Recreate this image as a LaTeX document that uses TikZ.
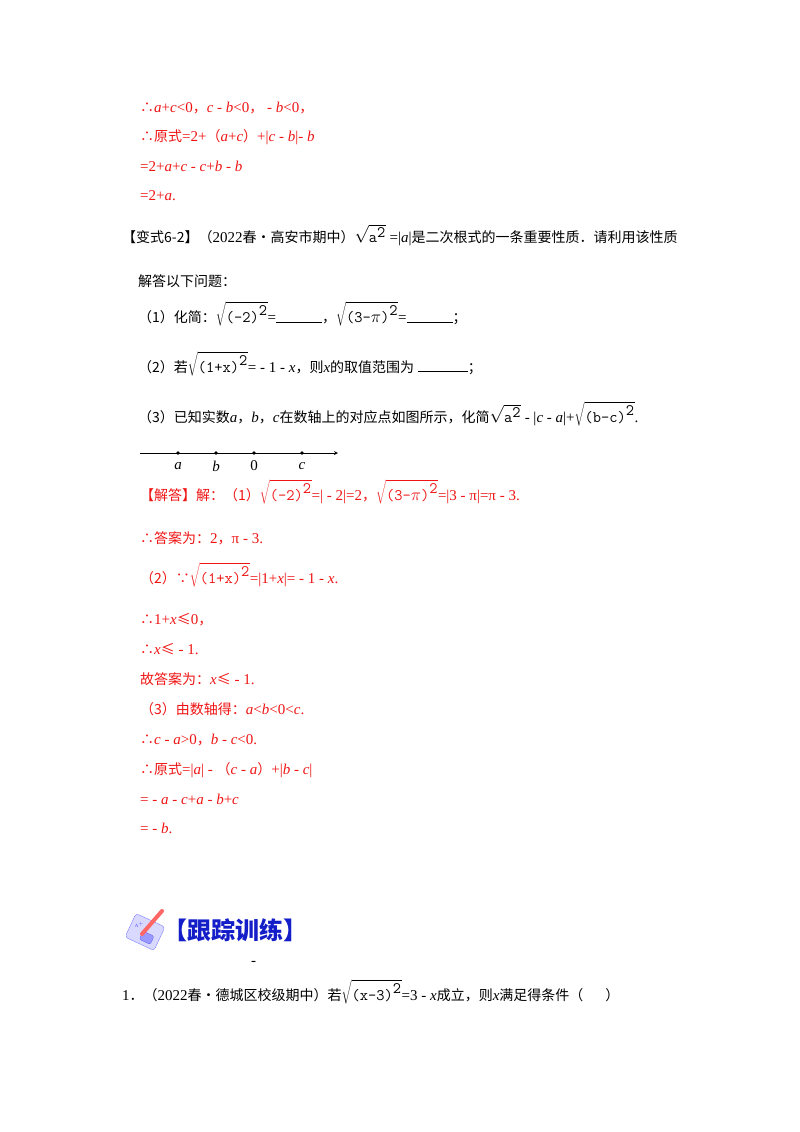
\documentclass[tikz,border=0pt]{standalone}
\usepackage{fontspec}
\setmainfont{Liberation Serif}
\newfontfamily\cjk{Noto Sans CJK SC}
\newcommand{\zh}[1]{{\cjk\fontsize{14}{16}\selectfont #1}}
\newcommand{\rt}[1]{{\fontsize{16}{18}\selectfont$\sqrt{\texttt{#1}^{\texttt{2}}}$}}
\newcommand{\vi}[1]{\textit{#1}}
\definecolor{rd}{RGB}{240,20,20}
\definecolor{bl}{RGB}{20,30,200}
\begin{document}
\begin{tikzpicture}[x=1pt,y=-1pt,
  t/.style={anchor=base west,inner sep=0pt,font=\fontsize{15}{17}\selectfont},
  r/.style={t,text=rd}]
\useasboundingbox[fill=white] (0,0) rectangle (800,1132);
\node[r] (l1) at (140,112) {\zh{∴}\vi{a}+\vi{c}<0\zh{，}\vi{c} - \vi{b}<0\zh{，} - \vi{b}<0\zh{，}};
\node[r] (l2) at (140,141) {\zh{∴原式}=2+\zh{（}\vi{a}+\vi{c}\zh{）}+|\vi{c} - \vi{b}|- \vi{b}};
\node[r] (l3) at (140,171) {=2+\vi{a}+\vi{c} - \vi{c}+\vi{b} - \vi{b}};
\node[r] (l4) at (140,200) {=2+\vi{a}.};
\node[t] (h) at (122,242) {\zh{【变式6-2】（}2022\zh{春•高安市期中）}\rt{a} =|\vi{a}|\zh{是二次根式的一条重要性质．请利用该性质}};
\node[t] (q0) at (138,286) {\zh{解答以下问题：}};
\node[t] (q1) at (138,322) {\zh{（1）化简：}\rt{(-2)}=\rule{46pt}{0.5pt}\zh{，}\rt{(3-$\pi$)}=\rule{46pt}{0.5pt}\zh{；}};
\node[t] (q2) at (138,372) {\zh{（2）若}\rt{(1+x)}= - 1 - \vi{x}\zh{，则}\vi{x}\zh{的取值范围为} \rule{50pt}{0.8pt}\zh{；}};
\node[t] (q3) at (138,422) {\zh{（3）已知实数}\vi{a}\zh{，}\vi{b}\zh{，}\vi{c}\zh{在数轴上的对应点如图所示，化简}\rt{a} - |\vi{c} - \vi{a}|+\rt{(b-c)}.};
\coordinate (ns) at (140,453); \coordinate (ne) at (338,453);
\draw[line width=0.8pt,-stealth] (ns) -- (ne);
\foreach \n/\xx/\lab in {pa/178/\vi{a},pb/216/\vi{b},p0/254/0,pc/302/\vi{c}}{
  \fill (\xx,453) circle (1.8pt);
  \node[font=\fontsize{15}{17}\selectfont] (\n) at (\xx,466) {\lab};}
\node[r] (s1) at (140,500) {\zh{【解答】解：（1）}\rt{(-2)}=| - 2|=2\zh{，}\rt{(3-$\pi$)}=|3 - π|=π - 3.};
\node[r] (s2) at (140,543) {\zh{∴答案为：}2\zh{，}π - 3.};
\node[r] (s3) at (140,583) {\zh{（2）∵}\rt{(1+x)}=|1+\vi{x}|= - 1 - \vi{x}.};
\node[r] (s4) at (140,624) {\zh{∴}1+\vi{x}\zh{≤}0\zh{，}};
\node[r] (s5) at (140,654) {\zh{∴}\vi{x}\zh{≤} - 1.};
\node[r] (s6) at (140,684) {\zh{故答案为：}\vi{x}\zh{≤} - 1.};
\node[r] (s7) at (140,714) {\zh{（3）由数轴得：}\vi{a}<\vi{b}<0<\vi{c}.};
\node[r] (s8) at (140,744) {\zh{∴}\vi{c} - \vi{a}>0\zh{，}\vi{b} - \vi{c}<0.};
\node[r] (s9) at (140,774) {\zh{∴原式}=|\vi{a}| - \zh{（}\vi{c} - \vi{a}\zh{）}+|\vi{b} - \vi{c}|};
\node[r] (s10) at (140,804) {= - \vi{a} - \vi{c}+\vi{a} - \vi{b}+\vi{c}};
\node[r] (s11) at (140,833) {= - \vi{b}.};
% icon
\begin{scope}[shift={(145,932)},rotate=-25]
\draw[fill=blue!15,draw=blue!50,rounded corners=3pt] (-16,-13) rectangle (16,13);
\draw[fill=blue!40,draw=blue!60,rounded corners=2pt] (-2,0) rectangle (10,9);
\node[font=\tiny,text=blue!70] (ic) at (-8,-4) {A$^+$};
\end{scope}
\draw[line width=4pt,draw=red!60,line cap=round] (162,911) -- (142,934);
\node[anchor=west,inner sep=0pt,text=bl,font=\cjk\bfseries\fontsize{24}{26}\selectfont] (tt) at (163,930) {【跟踪训练】};
\node[t] (dash) at (251,965) {-};
\node[t] (p1) at (122,1000) {1\zh{．（}2022\zh{春•德城区校级期中）若}\rt{(x-3)}=3 - \vi{x}\zh{成立，则}\vi{x}\zh{满足得条件（}\hspace{22pt}\zh{）}};
\end{tikzpicture}
\end{document}
